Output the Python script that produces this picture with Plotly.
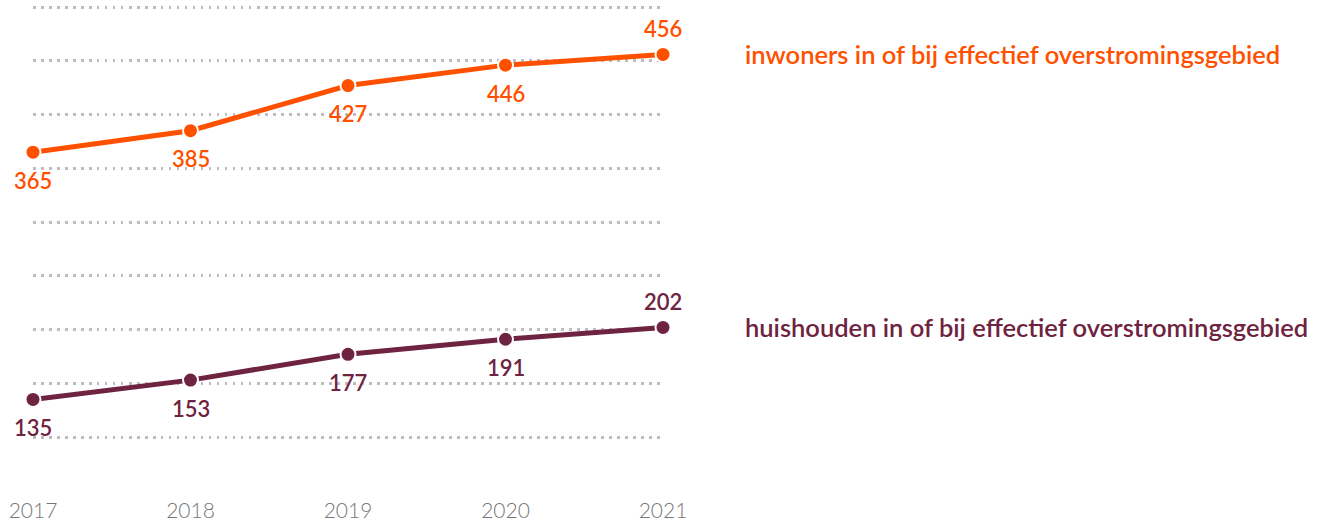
import plotly.graph_objects as go

years = [2017, 2018, 2019, 2020, 2021]
inwoners = [365, 385, 427, 446, 456]
huishouden = [135, 153, 177, 191, 202]
series_names = ["inwoners in of bij effectief overstromingsgebied",
                "huishouden in of bij effectief overstromingsgebied"]
label_above = [False, False, False, False, True]
grid_vals = [100, 150, 200, 250, 300, 350, 400, 450, 500]

ORANGE = "#FF5000"
PURPLE = "#6E2340"
FONT = "Lato"

fig = go.Figure()
for vals, color, name in [(inwoners, ORANGE, series_names[0]), (huishouden, PURPLE, series_names[1])]:
    fig.add_trace(go.Scatter(
        x=years, y=vals, mode="lines+markers",
        line=dict(color=color, width=5),
        marker=dict(size=15, color=color, line=dict(color="white", width=2)),
        cliponaxis=False, showlegend=False, hoverinfo="skip",
    ))
    for yr, v, above in zip(years, vals, label_above):
        fig.add_annotation(x=yr, y=v, xref="x", yref="y", text=str(v), showarrow=False,
                           yshift=26 if above else -28, xanchor="center", yanchor="middle",
                           font=dict(family=FONT, size=22, color=color, weight=600))
    fig.add_annotation(x=1, xref="paper", xshift=80, y=vals[-1], yref="y",
                       text=name, showarrow=False, xanchor="left", yanchor="middle",
                       font=dict(family=FONT, size=25.5, color=color, weight=600))

fig.update_layout(
    width=1325, height=525,
    margin=dict(l=33, r=662, t=6, b=29, autoexpand=False),
    plot_bgcolor="white", paper_bgcolor="white",
    xaxis=dict(range=[2017, 2021], tickvals=years, showgrid=False, zeroline=False,
               showline=False, ticks="", tickfont=dict(family=FONT, size=21, color="#777777", weight=300)),
    yaxis=dict(range=[45.2, 501], tickvals=grid_vals, showticklabels=False, zeroline=False,
               showline=False, showgrid=True, gridcolor="#BDBDBD", gridwidth=2.5,
               griddash="2.5px,5.5px"),
)
fig.write_html("out.html", config={"displayModeBar": False},
               post_script="document.body.style.margin='0';document.body.style.overflow='hidden';")
